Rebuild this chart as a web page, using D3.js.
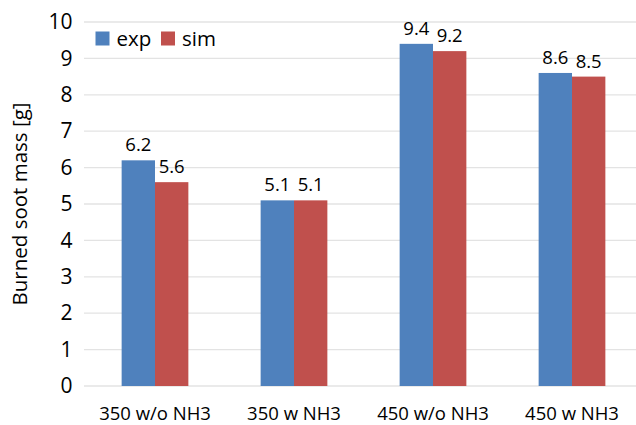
<!DOCTYPE html>
<html>
<head>
<meta charset="utf-8">
<script src="https://cdn.jsdelivr.net/npm/d3@7/dist/d3.min.js"></script>
<style>
  html, body { margin: 0; padding: 0; background: #fff; }
  svg { display: block; font-family: "Open Sans", sans-serif; }
</style>
</head>
<body>
<svg id="chart" width="636" height="425"></svg>
<script>
// Burned soot mass per test condition: measurement vs. simulation
const categories = ["350 w/o NH3", "350 w NH3", "450 w/o NH3", "450 w NH3"];
const seriesNames = ["exp", "sim"];
const expValues = [6.2, 5.1, 9.4, 8.6];
const simValues = [5.6, 5.1, 9.2, 8.5];
const yTicks = [0, 1, 2, 3, 4, 5, 6, 7, 8, 9, 10];
const colors = { exp: "#4F81BD", sim: "#C0504D" };

const rows = categories.map((c, i) => ({ cat: c, exp: expValues[i], sim: simValues[i] }));

const svg = d3.select("#chart");
const width = 636;

const plot = { left: 85.5, right: 641.5, top: 22, bottom: 386 };

const x0 = d3.scaleBand()
  .domain(categories)
  .range([plot.left, plot.right])
  .paddingInner(0.52)
  .paddingOuter(0.26);

const x1 = d3.scaleBand()
  .domain(seriesNames)
  .range([0, x0.bandwidth()]);

const y = d3.scaleLinear().domain([0, 10]).range([plot.bottom, plot.top]);

// horizontal gridlines
svg.append("g")
  .selectAll("line")
  .data(yTicks)
  .join("line")
  .attr("x1", 84)
  .attr("x2", width)
  .attr("y1", d => y(d))
  .attr("y2", d => y(d))
  .attr("stroke", "#e3e3e3")
  .attr("stroke-width", 1.3);

// y axis tick labels
const yAxis = svg.append("g")
  .attr("transform", `translate(72.5,0)`)
  .call(d3.axisLeft(y).tickValues(yTicks).tickSize(0).tickPadding(0));
yAxis.select(".domain").remove();
yAxis.selectAll("text")
  .attr("font-family", "Open Sans, sans-serif")
  .attr("font-size", 21)
  .attr("fill", "#000");

// x axis category labels
const xAxis = svg.append("g")
  .attr("transform", `translate(0,${plot.bottom})`)
  .call(d3.axisBottom(x0).tickSize(0).tickPadding(0));
xAxis.select(".domain").remove();
xAxis.selectAll("text")
  .attr("font-family", "Open Sans, sans-serif")
  .attr("font-size", 18.5)
  .attr("fill", "#000")
  .attr("dy", null)
  .attr("y", 34);

// bars
const groups = svg.append("g")
  .selectAll("g")
  .data(rows)
  .join("g")
  .attr("transform", d => `translate(${x0(d.cat)},0)`);

groups.selectAll("rect")
  .data(d => seriesNames.map(k => ({ key: k, value: d[k] })))
  .join("rect")
  .attr("x", d => x1(d.key))
  .attr("width", x1.bandwidth())
  .attr("y", d => y(d.value))
  .attr("height", d => y(0) - y(d.value))
  .attr("fill", d => colors[d.key]);

// value labels
groups.selectAll("text")
  .data(d => seriesNames.map(k => ({ key: k, value: d[k] })))
  .join("text")
  .attr("x", d => x1(d.key) + x1.bandwidth() / 2)
  .attr("y", d => y(d.value) - 9)
  .attr("text-anchor", "middle")
  .attr("font-size", 18.5)
  .attr("fill", "#000")
  .text(d => d3.format(".1f")(d.value));

// y axis title
svg.append("text")
  .attr("transform", `translate(27,${(plot.top + plot.bottom) / 2}) rotate(-90)`)
  .attr("text-anchor", "middle")
  .attr("font-size", 20.5)
  .attr("fill", "#000")
  .text("Burned soot mass [g]");

// legend
const legendX = [95.5, 161];
const legend = svg.append("g");
seriesNames.forEach((name, i) => {
  legend.append("rect")
    .attr("x", legendX[i])
    .attr("y", 31.5)
    .attr("width", 14)
    .attr("height", 14)
    .attr("fill", colors[name]);
  legend.append("text")
    .attr("x", legendX[i] + 21)
    .attr("y", 45.5)
    .attr("font-size", 20.5)
    .attr("fill", "#000")
    .text(name);
});
</script>
</body>
</html>
